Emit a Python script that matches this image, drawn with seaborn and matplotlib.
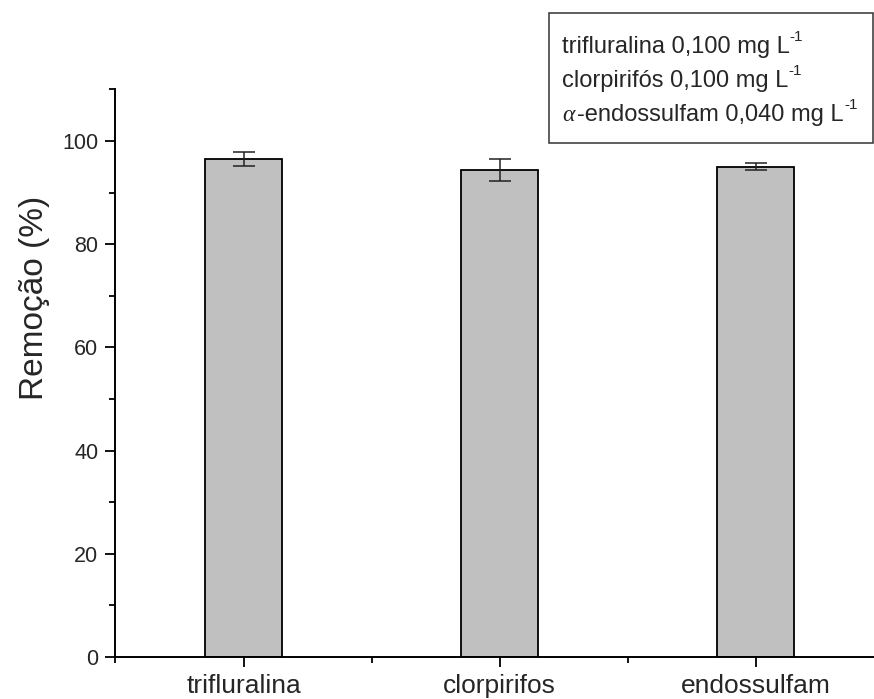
import matplotlib
matplotlib.use("Agg")
import matplotlib.pyplot as plt
import seaborn as sns
import pandas as pd
from matplotlib.patches import Rectangle
from matplotlib.ticker import MultipleLocator, FixedLocator

# Pesticide removal data
categories = ["trifluralina", "clorpirifos", "endossulfam"]
removal = [96.5, 94.4, 95.0]
removal_err = [1.4, 2.15, 0.7]
legend_labels = ["trifluralina 0,100 mg L", "clorpirifós 0,100 mg L", "-endossulfam 0,040 mg L"]

sns.set_style("ticks")
plt.rcParams["font.family"] = ["Liberation Sans", "DejaVu Sans"]
plt.rcParams["mathtext.fontset"] = "custom"
plt.rcParams["mathtext.rm"] = "Liberation Sans"
plt.rcParams["mathtext.it"] = "Liberation Serif:italic"

W, H = 874, 699
fig = plt.figure(figsize=(W / 100, H / 100), dpi=100)

x0, x1 = 115.5, 884.0
y_top, y_bot = 89.4, 657.0
ax = fig.add_axes([x0 / W, (H - y_bot) / H, (x1 - x0) / W, (y_bot - y_top) / H])

df = pd.DataFrame({"pesticida": categories, "remocao": removal})
sns.barplot(data=df, x="pesticida", y="remocao", color="#c0c0c0", saturation=1,
            width=0.3, edgecolor="black", linewidth=1.3, ax=ax, zorder=2)
ax.errorbar(range(len(categories)), removal, yerr=removal_err, fmt="none",
            ecolor="#222222", elinewidth=1.1, capsize=8, capthick=1.1, zorder=3)

ax.set_xlim(-0.5, 2.5)
ax.set_ylim(0, 110)
ax.yaxis.set_major_locator(FixedLocator([0, 20, 40, 60, 80, 100]))
ax.yaxis.set_minor_locator(FixedLocator([10, 30, 50, 70, 90, 110]))
ax.xaxis.set_minor_locator(MultipleLocator(1, offset=0.5))

for side in ["top", "right"]:
    ax.spines[side].set_visible(False)
for side in ["left", "bottom"]:
    ax.spines[side].set_linewidth(1.4)
    ax.spines[side].set_color("black")

ax.tick_params(axis="both", which="major", direction="out", length=7.5, width=1.3, color="black")
ax.tick_params(axis="both", which="minor", direction="out", length=4, width=1.3, color="black")
ax.tick_params(axis="y", which="major", labelsize=15.5, pad=5)
ax.tick_params(axis="x", which="major", labelsize=19, pad=5)

ax.set_xlabel("")
ax.set_ylabel("Remoção (%)", fontsize=24)
ax.yaxis.set_label_coords((50 - x0) / (x1 - x0), (y_bot - 298) / (y_bot - y_top))

# Text box describing concentrations
bx0, bx1, by0, by1 = 549, 873, 13, 143
fig.patches.append(Rectangle((bx0 / W, (H - by1) / H), (bx1 - bx0) / W, (by1 - by0) / H,
                             transform=fig.transFigure, fill=False, edgecolor="#333333",
                             linewidth=1.1))
baselines = [53, 87, 121]
for i, (lab, yb) in enumerate(zip(legend_labels, baselines)):
    if i == 2:
        a = fig.text(562 / W, (H - yb) / H, r"$\alpha$", fontsize=17, va="baseline", ha="left")
        t = ax.annotate(lab, xy=(1, 0), xycoords=a, xytext=(0.5, 0), textcoords="offset points",
                        fontsize=17, va="bottom", ha="left")
    else:
        t = fig.text(562 / W, (H - yb) / H, lab, fontsize=17, va="baseline", ha="left")
    ax.annotate("-1", xy=(1, 1), xycoords=t, xytext=(0, -1), textcoords="offset points",
                fontsize=11, va="center", ha="left")

fig.savefig("out.png", dpi=100)
